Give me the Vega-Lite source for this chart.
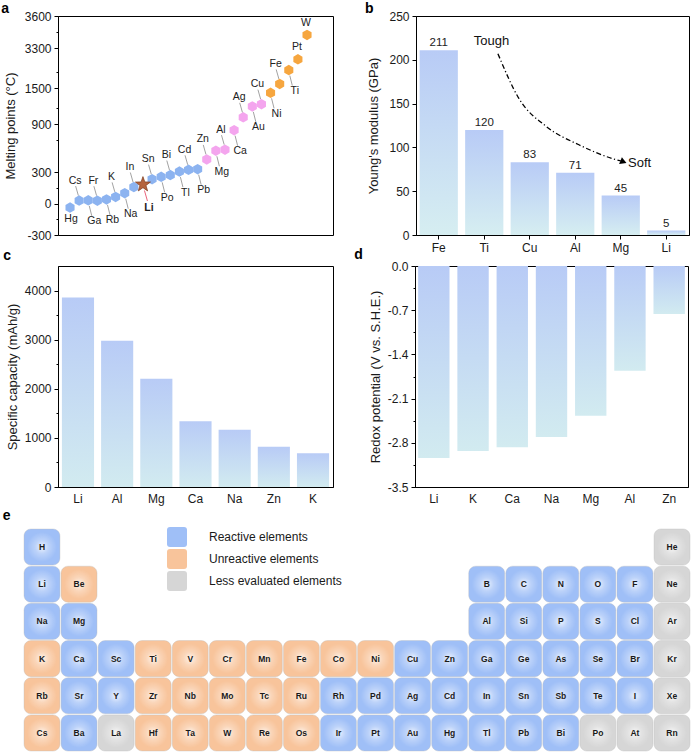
{
  "$schema": "https://vega.github.io/schema/vega-lite/v6.json",
  "padding": {"left": 0, "top": 1, "right": 2, "bottom": 0},
  "config": {
    "font": "Liberation Sans",
    "view": {"stroke": "#000", "strokeWidth": 1},
    "axis": {"labelFont": "Liberation Sans", "titleFont": "Liberation Sans", "labelFontSize": 12, "titleFontSize": 13, "titleFontWeight": "normal", "labelColor": "#1a1a1a", "titleColor": "#1a1a1a", "domainColor": "#000", "tickColor": "#000", "grid": false, "labelPadding": 3, "tickSize": 4, "labelOverlap": false},
    "title": {"fontSize": 14, "fontWeight": "bold", "anchor": "start", "frame": "bounds", "color": "#000", "font": "Liberation Sans"}
  },
  "resolve": {"scale": {"color": "independent"}, "legend": {"color": "independent"}},
  "spacing": 4,
  "vconcat": [
    {
      "spacing": -7,
      "vconcat": [
        {
          "spacing": 30,
          "hconcat": [
            {
              "width": 275, "height": 219,
              "title": {"text": "a", "dx": -3, "offset": -6},
              "data": {"values": [
                {"el": "Hg", "mp": -39, "idx": 0, "grp": "low"},
                {"el": "Cs", "mp": 28, "idx": 1, "grp": "low"},
                {"el": "Ga", "mp": 30, "idx": 2, "grp": "low"},
                {"el": "Fr", "mp": 27, "idx": 3, "grp": "low"},
                {"el": "Rb", "mp": 39, "idx": 4, "grp": "low"},
                {"el": "K", "mp": 63, "idx": 5, "grp": "low"},
                {"el": "Na", "mp": 98, "idx": 6, "grp": "low"},
                {"el": "In", "mp": 157, "idx": 7, "grp": "low"},
                {"el": "Li", "mp": 181, "idx": 8, "grp": "li"},
                {"el": "Sn", "mp": 232, "idx": 9, "grp": "low"},
                {"el": "Po", "mp": 254, "idx": 10, "grp": "low"},
                {"el": "Bi", "mp": 271, "idx": 11, "grp": "low"},
                {"el": "Tl", "mp": 304, "idx": 12, "grp": "low"},
                {"el": "Cd", "mp": 321, "idx": 13, "grp": "low"},
                {"el": "Pb", "mp": 327, "idx": 14, "grp": "low"},
                {"el": "Zn", "mp": 420, "idx": 15, "grp": "mid"},
                {"el": "Mg", "mp": 650, "idx": 16, "grp": "mid"},
                {"el": "Al", "mp": 660, "idx": 17, "grp": "mid"},
                {"el": "Ca", "mp": 842, "idx": 18, "grp": "mid"},
                {"el": "Ag", "mp": 962, "idx": 19, "grp": "mid"},
                {"el": "Au", "mp": 1064, "idx": 20, "grp": "mid"},
                {"el": "Cu", "mp": 1085, "idx": 21, "grp": "mid"},
                {"el": "Ni", "mp": 1455, "idx": 22, "grp": "high"},
                {"el": "Fe", "mp": 1538, "idx": 23, "grp": "high"},
                {"el": "Ti", "mp": 1668, "idx": 24, "grp": "high"},
                {"el": "Pt", "mp": 1768, "idx": 25, "grp": "high"},
                {"el": "W", "mp": 3422, "idx": 26, "grp": "high"}
              ]},
              "transform": [
                {"calculate": "datum.mp < 500 ? (datum.mp + 300) * 80 / 762 : datum.mp < 1200 ? 80 + (datum.mp - 610) * 55 / 514 : datum.mp < 2000 ? 135 + (datum.mp - 1388) * 44 / 411 : 179 + (datum.mp - 3225) * 40 / 375", "as": "h"}
              ],
              "encoding": {
                "x": {"field": "idx", "type": "quantitative", "scale": {"domain": [-1.32, 28.85], "nice": false, "zero": false}, "axis": null},
                "y": {"field": "h", "type": "quantitative",
                  "scale": {"domain": [0, 219], "nice": false, "zero": false},
                  "axis": {"title": "Melting points (°C)", "titlePadding": 7,
                    "values": [0, 15.75, 31.5, 47.2, 63, 95, 111, 127.1, 147, 163, 187, 203, 219],
                    "labelExpr": "datum.value == 0 ? '-300' : datum.value == 31.5 ? '0' : datum.value == 63 ? '300' : datum.value == 111 ? '900' : datum.value == 147 ? '1500' : datum.value == 187 ? '3300' : datum.value == 219 ? '3600' : ''",
                    "tickSize": {"condition": {"test": "indexof([0,31.5,63,111,147,187,219], datum.value) >= 0", "value": 4}, "value": 2}}}
              },
              "layer": [
                {"transform": [{"filter": "datum.grp == 'low'"}],
                 "mark": {"type": "point", "shape": "M0,-1L0.866,-0.5L0.866,0.5L0,1L-0.866,0.5L-0.866,-0.5Z", "size": 110, "filled": true, "opacity": 1, "color": "#8cb3f0"}},
                {"transform": [{"filter": "datum.grp == 'mid'"}],
                 "mark": {"type": "point", "shape": "M0,-1L0.866,-0.5L0.866,0.5L0,1L-0.866,0.5L-0.866,-0.5Z", "size": 110, "filled": true, "opacity": 1, "color": "#f4a5ee"}},
                {"transform": [{"filter": "datum.grp == 'high'"}],
                 "mark": {"type": "point", "shape": "M0,-1L0.866,-0.5L0.866,0.5L0,1L-0.866,0.5L-0.866,-0.5Z", "size": 110, "filled": true, "opacity": 1, "color": "#f6a63f"}},
                {"transform": [{"filter": "datum.el == 'Li'"}],
                 "mark": {"type": "point", "shape": "M0,-1L0.235,-0.324L0.951,-0.309L0.38,0.124L0.588,0.809L0,0.4L-0.588,0.809L-0.38,0.124L-0.951,-0.309L-0.235,-0.324Z", "size": 250, "filled": true, "fill": "#b5643e", "stroke": "#7d3a1c", "strokeWidth": 0.7, "opacity": 1}},
                {"transform": [{"filter": "indexof(['Cs','Fr','K','In','Sn','Bi','Cd','Zn','Al','Ag','Cu','Fe'], datum.el) >= 0"}],
                 "mark": {"type": "point", "shape": "M-0.35,-1.45L-0.08,-0.5", "size": 400, "filled": false, "color": "#8a8a8a", "strokeWidth": 0.8, "opacity": 1}},
                {"transform": [{"filter": "indexof(['Ga','Rb','Na','Po','Tl','Pb','Mg','Ca','Au','Ni','Ti'], datum.el) >= 0"}],
                 "mark": {"type": "point", "shape": "M0.1,0.55L0.35,1.55", "size": 400, "filled": false, "color": "#8a8a8a", "strokeWidth": 0.8, "opacity": 1}},
                {"transform": [{"filter": "datum.el == 'Li'"}],
                 "mark": {"type": "point", "shape": "M0.15,0.6L0.45,1.65", "size": 400, "filled": false, "color": "#e8506a", "strokeWidth": 0.9, "opacity": 1}},
                {"transform": [{"filter": "indexof(['Cs','Fr','K','In','Sn','Bi','Cd','Zn','Al','Ag','Cu','Fe'], datum.el) >= 0"}],
                 "mark": {"type": "text", "dx": -4, "dy": -20, "fontSize": 10.5, "color": "#222"},
                 "encoding": {"text": {"field": "el", "type": "nominal"}}},
                {"transform": [{"filter": "indexof(['Ga','Rb','Na','Po','Tl','Pb','Mg','Ca','Au','Ni','Ti'], datum.el) >= 0"}],
                 "mark": {"type": "text", "dx": 6, "dy": 21, "fontSize": 10.5, "color": "#222"},
                 "encoding": {"text": {"field": "el", "type": "nominal"}}},
                {"transform": [{"filter": "datum.el == 'Pt' || datum.el == 'W'"}],
                 "mark": {"type": "text", "dx": -1, "dy": -12, "fontSize": 10.5, "color": "#222"},
                 "encoding": {"text": {"field": "el", "type": "nominal"}}},
                {"transform": [{"filter": "datum.el == 'Hg'"}],
                 "mark": {"type": "text", "dx": 1, "dy": 11, "fontSize": 10.5, "color": "#222"},
                 "encoding": {"text": {"field": "el", "type": "nominal"}}},
                {"transform": [{"filter": "datum.el == 'Li'"}],
                 "mark": {"type": "text", "dx": 6, "dy": 23, "fontSize": 10.5, "fontWeight": "bold", "color": "#222"},
                 "encoding": {"text": {"field": "el", "type": "nominal"}}},
                {"data": {"values": [{"b": 80}, {"b": 135}, {"b": 179}]},
                 "mark": {"type": "point", "shape": "M-1,0L1,-1L1,0L-1,1Z", "size": 100, "filled": true, "color": "#ffffff", "opacity": 1, "strokeWidth": 0},
                 "encoding": {"x": {"datum": -1.32}, "y": {"field": "b", "type": "quantitative"}}},
                {"data": {"values": [{"b": 80}, {"b": 135}, {"b": 179}]},
                 "mark": {"type": "point", "shape": "M-1,0L1,-1M-1,1L1,0", "size": 100, "filled": false, "color": "#000", "opacity": 1, "strokeWidth": 1},
                 "encoding": {"x": {"datum": -1.32}, "y": {"field": "b", "type": "quantitative"}}},
                {"data": {"values": [{"b": 80}, {"b": 135}, {"b": 179}]},
                 "mark": {"type": "point", "shape": "M-1,0L1,-1L1,0L-1,1Z", "size": 100, "filled": true, "color": "#ffffff", "opacity": 1, "strokeWidth": 0},
                 "encoding": {"x": {"datum": 28.85}, "y": {"field": "b", "type": "quantitative"}}},
                {"data": {"values": [{"b": 80}, {"b": 135}, {"b": 179}]},
                 "mark": {"type": "point", "shape": "M-1,0L1,-1M-1,1L1,0", "size": 100, "filled": false, "color": "#000", "opacity": 1, "strokeWidth": 1},
                 "encoding": {"x": {"datum": 28.85}, "y": {"field": "b", "type": "quantitative"}}}
              ]
            },
            {
              "width": 273, "height": 219,
              "title": {"text": "b", "dx": -3, "offset": -6},
              "layer": [
                {
                  "data": {"values": [
                    {"el": "Fe", "v": 211}, {"el": "Ti", "v": 120}, {"el": "Cu", "v": 83},
                    {"el": "Al", "v": 71}, {"el": "Mg", "v": 45}, {"el": "Li", "v": 5}
                  ]},
                  "encoding": {
                    "x": {"field": "el", "type": "nominal", "sort": null, "scale": {"paddingInner": 0.16, "paddingOuter": 0.08},
                      "axis": {"title": null, "labelAngle": 0}},
                    "y": {"field": "v", "type": "quantitative", "scale": {"domain": [0, 250], "nice": false},
                      "axis": {"title": "Young's modulus (GPa)", "titlePadding": 8,
                        "values": [0, 25, 50, 75, 100, 125, 150, 175, 200, 225, 250],
                        "labelExpr": "datum.value % 50 == 0 ? '' + datum.value : ''",
                        "tickSize": {"condition": {"test": "datum.value % 50 == 0", "value": 4}, "value": 2}}}
                  },
                  "layer": [
                    {"mark": {"type": "bar", "color": {"gradient": "linear", "x1": 0, "y1": 0, "x2": 0, "y2": 1, "stops": [{"offset": 0, "color": "#b8cbf6"}, {"offset": 1, "color": "#d6eef1"}]}}},
                    {"mark": {"type": "text", "dy": -7, "fontSize": 11.5, "color": "#222"}, "encoding": {"text": {"field": "v", "type": "quantitative"}}}
                  ]
                },
                {
                  "data": {"values": [
                    {"cx": 1.8, "cy": 207}, {"cx": 2.26, "cy": 156}, {"cx": 2.86, "cy": 124},
                    {"cx": 3.58, "cy": 103}, {"cx": 4.33, "cy": 87}, {"cx": 4.5, "cy": 84.5}
                  ]},
                  "mark": {"type": "line", "interpolate": "monotone", "color": "#000", "strokeWidth": 1.3, "strokeDash": [5, 2.5, 1.2, 2.5]},
                  "encoding": {
                    "x": {"field": "cx", "type": "quantitative", "scale": {"domain": [0, 6], "nice": false, "zero": false}, "axis": null},
                    "y": {"field": "cy", "type": "quantitative"}
                  }
                },
                {
                  "data": {"values": [{"cx": 4.56, "cy": 83.5}]},
                  "mark": {"type": "point", "shape": "triangle-right", "filled": true, "color": "#000", "opacity": 1, "size": 55, "angle": 22},
                  "encoding": {
                    "x": {"field": "cx", "type": "quantitative", "scale": {"domain": [0, 6], "nice": false, "zero": false}, "axis": null},
                    "y": {"field": "cy", "type": "quantitative"}
                  }
                },
                {
                  "data": {"values": [{"t": "Tough", "nx": 1.27, "ny": 221}, {"t": "Soft", "nx": 4.66, "ny": 82.5}]},
                  "mark": {"type": "text", "align": "left", "fontSize": 13, "color": "#111"},
                  "encoding": {
                    "x": {"field": "nx", "type": "quantitative", "scale": {"domain": [0, 6], "nice": false, "zero": false}, "axis": null},
                    "y": {"field": "ny", "type": "quantitative"},
                    "text": {"field": "t", "type": "nominal"}
                  }
                }
              ],
              "resolve": {"scale": {"x": "independent"}}
            }
          ]
        },
        {
          "spacing": 19,
          "hconcat": [
            {
              "width": 275, "height": 221,
              "title": {"text": "c", "dx": -3, "offset": 3},
              "data": {"values": [
                {"el": "Li", "v": 3860}, {"el": "Al", "v": 2980}, {"el": "Mg", "v": 2205},
                {"el": "Ca", "v": 1340}, {"el": "Na", "v": 1165}, {"el": "Zn", "v": 820}, {"el": "K", "v": 685}
              ]},
              "mark": {"type": "bar", "color": {"gradient": "linear", "x1": 0, "y1": 0, "x2": 0, "y2": 1, "stops": [{"offset": 0, "color": "#b8cbf6"}, {"offset": 1, "color": "#d2ebf0"}]}},
              "encoding": {
                "x": {"field": "el", "type": "nominal", "sort": null, "scale": {"paddingInner": 0.18, "paddingOuter": 0.1},
                  "axis": {"title": null, "labelAngle": 0, "ticks": false, "labelPadding": 6}},
                "y": {"field": "v", "type": "quantitative", "scale": {"domain": [0, 4500], "nice": false},
                  "axis": {"title": "Specific capacity (mAh/g)", "titlePadding": 5,
                    "values": [0, 500, 1000, 1500, 2000, 2500, 3000, 3500, 4000],
                    "labelExpr": "datum.value % 1000 == 0 ? '' + datum.value : ''",
                    "tickSize": {"condition": {"test": "datum.value % 1000 == 0", "value": 4}, "value": 2}}}
              }
            },
            {
              "width": 273, "height": 221,
              "title": {"text": "d", "dx": -15, "offset": -2},
              "data": {"values": [
                {"el": "Li", "v": -3.04}, {"el": "K", "v": -2.93}, {"el": "Ca", "v": -2.87},
                {"el": "Na", "v": -2.71}, {"el": "Mg", "v": -2.37}, {"el": "Al", "v": -1.66}, {"el": "Zn", "v": -0.76}
              ]},
              "mark": {"type": "bar", "color": {"gradient": "linear", "x1": 0, "y1": 0, "x2": 0, "y2": 1, "stops": [{"offset": 0, "color": "#b8cbf6"}, {"offset": 1, "color": "#d2ebf0"}]}},
              "encoding": {
                "x": {"field": "el", "type": "nominal", "sort": null, "scale": {"paddingInner": 0.2, "paddingOuter": 0.08},
                  "axis": {"title": null, "labelAngle": 0, "ticks": false, "labelPadding": 6}},
                "y": {"field": "v", "type": "quantitative", "scale": {"domain": [-3.5, 0], "nice": false, "zero": false},
                  "axis": {"title": "Redox potential (V vs. S.H.E.)", "titlePadding": 5,
                    "values": [0, -0.35, -0.7, -1.05, -1.4, -1.75, -2.1, -2.45, -2.8, -3.15, -3.5],
                    "labelExpr": "round(datum.value*100) % 70 == 0 ? (datum.value == 0 ? '0.0' : '-' + format(-datum.value, '.1f')) : ''",
                    "tickSize": {"condition": {"test": "round(datum.value*100) % 70 == 0", "value": 4}, "value": 2}}}
              }
            }
          ]
        }
      ]
    },
    {
      "width": 632, "height": 222,
      "view": {"stroke": null},
      "title": {"text": "e", "dx": -21, "offset": 4},
      "data": {"values": [
        {"el": "H", "col": 1, "row": 1, "c": "R"}, {"el": "He", "col": 18, "row": 1, "c": "G"},
        {"el": "Li", "col": 1, "row": 2, "c": "R"}, {"el": "Be", "col": 2, "row": 2, "c": "U"},
        {"el": "B", "col": 13, "row": 2, "c": "R"}, {"el": "C", "col": 14, "row": 2, "c": "R"},
        {"el": "N", "col": 15, "row": 2, "c": "R"}, {"el": "O", "col": 16, "row": 2, "c": "R"},
        {"el": "F", "col": 17, "row": 2, "c": "R"}, {"el": "Ne", "col": 18, "row": 2, "c": "G"},
        {"el": "Na", "col": 1, "row": 3, "c": "R"}, {"el": "Mg", "col": 2, "row": 3, "c": "R"},
        {"el": "Al", "col": 13, "row": 3, "c": "R"}, {"el": "Si", "col": 14, "row": 3, "c": "R"},
        {"el": "P", "col": 15, "row": 3, "c": "R"}, {"el": "S", "col": 16, "row": 3, "c": "R"},
        {"el": "Cl", "col": 17, "row": 3, "c": "R"}, {"el": "Ar", "col": 18, "row": 3, "c": "G"},
        {"el": "K", "col": 1, "row": 4, "c": "U"}, {"el": "Ca", "col": 2, "row": 4, "c": "R"},
        {"el": "Sc", "col": 3, "row": 4, "c": "R"}, {"el": "Ti", "col": 4, "row": 4, "c": "U"},
        {"el": "V", "col": 5, "row": 4, "c": "U"}, {"el": "Cr", "col": 6, "row": 4, "c": "U"},
        {"el": "Mn", "col": 7, "row": 4, "c": "U"}, {"el": "Fe", "col": 8, "row": 4, "c": "U"},
        {"el": "Co", "col": 9, "row": 4, "c": "U"}, {"el": "Ni", "col": 10, "row": 4, "c": "U"},
        {"el": "Cu", "col": 11, "row": 4, "c": "R"}, {"el": "Zn", "col": 12, "row": 4, "c": "R"},
        {"el": "Ga", "col": 13, "row": 4, "c": "R"}, {"el": "Ge", "col": 14, "row": 4, "c": "R"},
        {"el": "As", "col": 15, "row": 4, "c": "R"}, {"el": "Se", "col": 16, "row": 4, "c": "R"},
        {"el": "Br", "col": 17, "row": 4, "c": "R"}, {"el": "Kr", "col": 18, "row": 4, "c": "G"},
        {"el": "Rb", "col": 1, "row": 5, "c": "U"}, {"el": "Sr", "col": 2, "row": 5, "c": "R"},
        {"el": "Y", "col": 3, "row": 5, "c": "R"}, {"el": "Zr", "col": 4, "row": 5, "c": "U"},
        {"el": "Nb", "col": 5, "row": 5, "c": "U"}, {"el": "Mo", "col": 6, "row": 5, "c": "U"},
        {"el": "Tc", "col": 7, "row": 5, "c": "U"}, {"el": "Ru", "col": 8, "row": 5, "c": "U"},
        {"el": "Rh", "col": 9, "row": 5, "c": "R"}, {"el": "Pd", "col": 10, "row": 5, "c": "R"},
        {"el": "Ag", "col": 11, "row": 5, "c": "R"}, {"el": "Cd", "col": 12, "row": 5, "c": "R"},
        {"el": "In", "col": 13, "row": 5, "c": "R"}, {"el": "Sn", "col": 14, "row": 5, "c": "R"},
        {"el": "Sb", "col": 15, "row": 5, "c": "R"}, {"el": "Te", "col": 16, "row": 5, "c": "R"},
        {"el": "I", "col": 17, "row": 5, "c": "R"}, {"el": "Xe", "col": 18, "row": 5, "c": "G"},
        {"el": "Cs", "col": 1, "row": 6, "c": "U"}, {"el": "Ba", "col": 2, "row": 6, "c": "R"},
        {"el": "La", "col": 3, "row": 6, "c": "G"}, {"el": "Hf", "col": 4, "row": 6, "c": "U"},
        {"el": "Ta", "col": 5, "row": 6, "c": "U"}, {"el": "W", "col": 6, "row": 6, "c": "U"},
        {"el": "Re", "col": 7, "row": 6, "c": "U"}, {"el": "Os", "col": 8, "row": 6, "c": "U"},
        {"el": "Ir", "col": 9, "row": 6, "c": "R"}, {"el": "Pt", "col": 10, "row": 6, "c": "R"},
        {"el": "Au", "col": 11, "row": 6, "c": "R"}, {"el": "Hg", "col": 12, "row": 6, "c": "R"},
        {"el": "Tl", "col": 13, "row": 6, "c": "R"}, {"el": "Pb", "col": 14, "row": 6, "c": "R"},
        {"el": "Bi", "col": 15, "row": 6, "c": "R"}, {"el": "Po", "col": 16, "row": 6, "c": "G"},
        {"el": "At", "col": 17, "row": 6, "c": "G"}, {"el": "Rn", "col": 18, "row": 6, "c": "G"}
      ]},
      "encoding": {
        "x": {"field": "col", "type": "ordinal", "scale": {"domain": [1, 2, 3, 4, 5, 6, 7, 8, 9, 10, 11, 12, 13, 14, 15, 16, 17, 18], "range": [-34, 632], "paddingInner": 0.03, "paddingOuter": 0}, "axis": null},
        "y": {"field": "row", "type": "ordinal", "scale": {"domain": [1, 2, 3, 4, 5, 6], "paddingInner": 0.03, "paddingOuter": 0}, "axis": null}
      },
      "layer": [
        {"mark": {"type": "rect", "cornerRadius": 7, "stroke": "#bdbdbd", "strokeWidth": 0.6, "strokeOpacity": 0.6},
         "encoding": {"color": {"field": "c", "type": "nominal",
           "scale": {"domain": ["R", "U", "G"], "range": ["#9fbff7", "#f8c49b", "#d6d6d6"]},
           "legend": {"orient": "none", "legendX": 109, "legendY": -2, "title": null,
             "labelExpr": "datum.label == 'R' ? 'Reactive elements' : datum.label == 'U' ? 'Unreactive elements' : 'Less evaluated elements'",
             "symbolType": "M-0.7,-1L0.7,-1Q1,-1 1,-0.7L1,0.7Q1,1 0.7,1L-0.7,1Q-1,1 -1,0.7L-1,-0.7Q-1,-1 -0.7,-1Z",
             "symbolSize": 400, "symbolStrokeWidth": 0, "symbolOpacity": 1, "labelFontSize": 12, "labelOffset": 22, "rowPadding": 2, "labelColor": "#1a1a1a", "labelFont": "Liberation Sans"}}}},
        {"mark": {"type": "rect", "cornerRadius": 7, "color": {"gradient": "radial", "x1": 0.5, "y1": 0.5, "r1": 0, "x2": 0.5, "y2": 0.5, "r2": 0.55, "stops": [{"offset": 0, "color": "rgba(255,255,255,0.8)"}, {"offset": 0.35, "color": "rgba(255,255,255,0.3)"}, {"offset": 0.75, "color": "rgba(255,255,255,0)"}, {"offset": 1, "color": "rgba(255,255,255,0)"}]}}},
        {"mark": {"type": "text", "fontSize": 8.5, "fontWeight": "bold", "color": "#1a1a1a"}, "encoding": {"text": {"field": "el", "type": "nominal"}}}
      ]
    }
  ]
}
